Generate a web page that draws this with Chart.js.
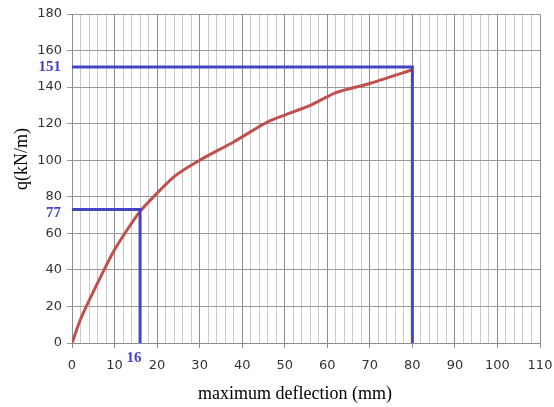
<!DOCTYPE html>
<html>
<head>
<meta charset="utf-8">
<script src="https://cdn.jsdelivr.net/npm/chart.js@4"></script>
<style>
  html, body { margin: 0; padding: 0; background: #fff; }
  #wrap { width: 554px; height: 407px; }
</style>
</head>
<body>
<div id="wrap"><canvas id="chart"></canvas></div>
<script>
// load-deflection curve
const deflection = [0, 2, 5, 10, 16, 24, 30, 38, 46, 56, 62, 70, 80];
const load = [0, 13, 28, 51, 72, 91, 100, 110, 121, 130, 137, 142, 149.5];

// guide lines (blue) and their labels
const guideUltX = [0, 80, 80];
const guideUltY = [151, 151, 0];
const guideYieldX = [0, 16, 16];
const guideYieldY = [73, 73, 0];
const guideLabels = ['151', '77', '16'];

const xTitle = 'maximum deflection (mm)';
const yTitle = 'q(kN/m)';

function toPoints(xs, ys) {
  return xs.map((x, i) => ({ x: x, y: ys[i] }));
}

const blue = '#4444c4';

const labelsPlugin = {
  id: 'labels',
  afterDraw(chart) {
    const ctx = chart.ctx;
    const xs = chart.scales.x, ys = chart.scales.y;
    ctx.save();
    ctx.fillStyle = blue;
    ctx.font = 'bold 15px "Liberation Serif"';
    ctx.textBaseline = 'middle';
    ctx.textAlign = 'right';
    ctx.fillText(guideLabels[0], 61, ys.getPixelForValue(guideUltY[0]));
    ctx.fillText(guideLabels[1], 61, ys.getPixelForValue(guideYieldY[0]) + 4);
    ctx.textAlign = 'center';
    ctx.fillText(guideLabels[2], xs.getPixelForValue(guideYieldX[1]) - 6, 358);

    ctx.fillStyle = '#000';
    ctx.font = '18px "Liberation Serif"';
    ctx.fillText(xTitle, 295, 394);
    ctx.translate(22, 159);
    ctx.rotate(-Math.PI / 2);
    ctx.fillText(yTitle, 0, 0);
    ctx.restore();
  }
};

new Chart(document.getElementById('chart').getContext('2d'), {
  type: 'scatter',
  data: {
    datasets: [
      {
        data: toPoints(guideUltX, guideUltY),
        showLine: true,
        borderColor: blue,
        borderWidth: 3,
        pointRadius: 0,
        borderJoinStyle: 'miter'
      },
      {
        data: toPoints(guideYieldX, guideYieldY),
        showLine: true,
        borderColor: blue,
        borderWidth: 3,
        pointRadius: 0,
        borderJoinStyle: 'miter'
      },
      {
        data: toPoints(deflection, load),
        showLine: true,
        borderColor: '#c0504d',
        borderWidth: 3,
        pointRadius: 0,
        tension: 0.2
      }
    ]
  },
  options: {
    responsive: true,
    maintainAspectRatio: false,
    animation: false,
    layout: { padding: { top: 14, right: 14, left: 0, bottom: 0 } },
    plugins: { legend: { display: false }, tooltip: { enabled: false } },
    scales: {
      x: {
        type: 'linear',
        min: 0,
        max: 110,
        afterFit(s) {
          s.height = 64;
          s.paddingLeft = 0;
          s.paddingRight = 0;
        },
        ticks: {
          stepSize: 2,
          autoSkip: false,
          maxRotation: 0,
          padding: 10,
          color: '#333',
          font: { family: 'DejaVu Sans', size: 13 },
          callback: v => (v % 10 === 0 ? v : '')
        },
        grid: {
          color: c => (c.tick.value % 10 === 0 ? '#8c8c8c' : '#c8c8c8'),
          tickColor: c => (c.tick.value % 10 === 0 ? '#8c8c8c' : 'rgba(0,0,0,0)'),
          tickLength: 5,
          lineWidth: 1
        },
        border: { color: '#8c8c8c' }
      },
      y: {
        min: 0,
        max: 180,
        afterFit(s) {
          s.width = 72;
          s.paddingTop = 0;
          s.paddingBottom = 0;
        },
        ticks: {
          stepSize: 20,
          padding: 5,
          color: '#333',
          font: { family: 'DejaVu Sans', size: 13 }
        },
        grid: {
          color: '#999',
          tickLength: 5,
          lineWidth: 1
        },
        border: { color: '#8c8c8c' }
      }
    }
  },
  plugins: [labelsPlugin]
});
</script>
</body>
</html>
